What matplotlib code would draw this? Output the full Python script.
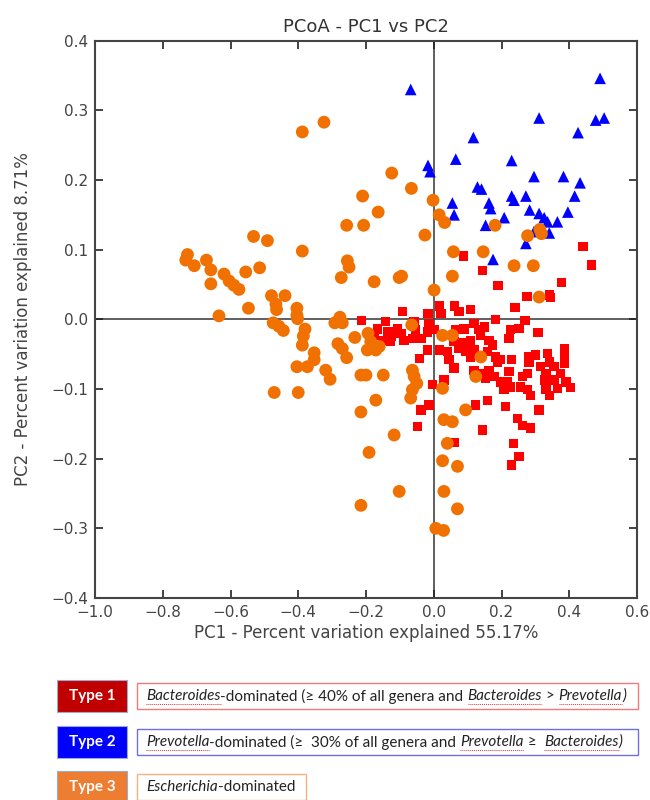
import matplotlib
matplotlib.use("Agg")
import matplotlib.pyplot as plt
from matplotlib.patches import Rectangle
from matplotlib.lines import Line2D

# PC1 / PC2 scores per enterotype
type1_pc1 = [0.441, 0.466, 0.087, 0.144, 0.19, 0.377, 0.275, 0.341, 0.345, 0.24,
             -0.092, -0.017, 0.016, 0.062, 0.075, 0.109, 0.021, 0.183, 0.269,
             -0.213, -0.166, -0.142, -0.135, -0.125, -0.107, -0.097, -0.151, -0.127,
             -0.088, -0.058, -0.053, -0.038, -0.014, 0.001, -0.019, -0.063, -0.176,
             0.065, 0.089, 0.119, 0.134, 0.149, 0.139, 0.227, 0.252, 0.308, 0.222,
             0.06, 0.089, 0.109, 0.163, 0.173,
             -0.019, 0.016, -0.043, 0.04, 0.045, 0.06, 0.075, 0.094, 0.109, 0.119,
             0.158, 0.183, 0.188, 0.198, 0.229, 0.281, 0.301, 0.336, 0.385, 0.385,
             0.341, 0.281,
             0.119, 0.139, 0.153, 0.163, 0.178, 0.198, 0.222, 0.217, 0.207, 0.227,
             0.262, 0.277, 0.257, 0.277, 0.286, 0.316, 0.331, 0.326, 0.331, 0.355,
             0.375, 0.39, 0.404, 0.355, 0.365, 0.341, 0.385, 0.03, -0.004,
             -0.014, -0.038, 0.124, 0.158, 0.212, 0.311, 0.247, 0.262, 0.286,
             -0.048, 0.144, 0.062, 0.235, 0.252, 0.229]
type1_pc2 = [0.105, 0.078, 0.091, 0.07, 0.049, 0.053, 0.033, 0.035, 0.031, 0.017,
             0.011, 0.008, 0.019, 0.019, 0.011, 0.014, 0.008, 0.0, -0.002,
             -0.002, -0.014, -0.003, -0.018, -0.025, -0.013, -0.02, -0.03, -0.032,
             -0.03, -0.003, -0.015, -0.027, -0.006, -0.015, -0.018, -0.027, -0.023,
             -0.015, -0.014, -0.006, -0.015, -0.011, -0.023, -0.015, -0.013, -0.019, -0.027,
             -0.032, -0.034, -0.03, -0.03, -0.037,
             -0.044, -0.044, -0.056, -0.046, -0.058, -0.07, -0.042, -0.046, -0.054, -0.044,
             -0.046, -0.054, -0.061, -0.058, -0.058, -0.054, -0.051, -0.049, -0.042, -0.051,
             -0.061, -0.061,
             -0.073, -0.078, -0.085, -0.073, -0.082, -0.09, -0.075, -0.09, -0.101, -0.097,
             -0.082, -0.078, -0.097, -0.101, -0.109, -0.068, -0.078, -0.087, -0.101, -0.068,
             -0.078, -0.09, -0.098, -0.087, -0.099, -0.109, -0.063, -0.087, -0.094,
             -0.123, -0.13, -0.123, -0.116, -0.125, -0.13, -0.142, -0.152, -0.156,
             -0.154, -0.159, -0.177, -0.178, -0.197, -0.209]

type2_pc1 = [-0.068, -0.017, -0.011, 0.065, 0.117, 0.055, 0.06, 0.129, 0.141, 0.163,
             0.168, 0.153, 0.208, 0.175, 0.23, 0.23, 0.237, 0.272, 0.283, 0.296,
             0.311, 0.311, 0.326, 0.336, 0.341, 0.296, 0.272, 0.365, 0.383, 0.396,
             0.416, 0.432, 0.426, 0.491, 0.478, 0.503]
type2_pc2 = [0.33, 0.221, 0.212, 0.23, 0.261, 0.167, 0.15, 0.19, 0.187, 0.167,
             0.159, 0.135, 0.146, 0.086, 0.228, 0.177, 0.171, 0.177, 0.157, 0.205,
             0.289, 0.152, 0.146, 0.14, 0.124, 0.126, 0.109, 0.14, 0.205, 0.154,
             0.177, 0.196, 0.268, 0.346, 0.286, 0.289]

type3_pc1 = [-0.388, -0.324, -0.21, -0.257, -0.207, -0.532, -0.491, -0.388, -0.727, -0.732,
             -0.707, -0.671, -0.658, -0.658, -0.619, -0.604, -0.59, -0.575, -0.555, -0.514,
             -0.255, -0.25, -0.273, -0.634, -0.547, -0.479, -0.439, -0.466, -0.464, -0.404,
             -0.404, -0.38, -0.474, -0.457, -0.444, -0.292, -0.277, -0.27, -0.385, -0.388,
             -0.353, -0.353, -0.373, -0.404, -0.319, -0.306, -0.471, -0.4, -0.283, -0.27,
             -0.257, -0.233, -0.215, -0.2, -0.215, -0.215, -0.194, -0.186, -0.196, -0.171,
             -0.161, -0.149, -0.171, -0.117, -0.191, -0.102, -0.063, -0.058, -0.05, -0.063,
             -0.068, 0.001, 0.026, 0.03, 0.055, 0.094, 0.04, 0.026, 0.07, 0.03,
             0.07, 0.006, 0.029, 0.311, 0.026, 0.055, 0.139, 0.124, -0.124, -0.066,
             -0.164, -0.026, -0.002, 0.016, 0.032, -0.176, -0.102, -0.095, 0.058, 0.146,
             0.055, 0.237, 0.294, 0.181, 0.277, 0.313, 0.318, -0.065, -0.402]
type3_pc2 = [0.269, 0.283, 0.177, 0.135, 0.135, 0.119, 0.113, 0.098, 0.093, 0.085,
             0.077, 0.085, 0.071, 0.051, 0.065, 0.055, 0.049, 0.043, 0.068, 0.074,
             0.084, 0.075, 0.06, 0.005, 0.016, 0.034, 0.034, 0.022, 0.014, 0.016,
             0.006, -0.014, -0.005, -0.01, -0.016, -0.005, 0.003, -0.005, -0.024, -0.037,
             -0.048, -0.058, -0.068, -0.068, -0.073, -0.086, -0.105, -0.105, -0.035, -0.042,
             -0.055, -0.026, -0.08, -0.08, -0.133, -0.267, -0.02, -0.032, -0.044, -0.044,
             -0.039, -0.08, -0.116, -0.166, -0.191, -0.247, -0.073, -0.082, -0.092, -0.101,
             -0.113, 0.042, -0.099, -0.144, -0.147, -0.13, -0.178, -0.203, -0.211, -0.247,
             -0.272, -0.3, -0.303, 0.032, -0.023, -0.023, -0.054, -0.082, 0.21, 0.188,
             0.154, 0.121, 0.171, 0.15, 0.139, 0.054, 0.06, 0.062, 0.097, 0.097,
             0.062, 0.077, 0.077, 0.135, 0.12, 0.129, 0.123, -0.008, 0.001]

x_ticks = [-1.0, -0.8, -0.6, -0.4, -0.2, 0.0, 0.2, 0.4, 0.6]
y_ticks = [-0.4, -0.3, -0.2, -0.1, 0.0, 0.1, 0.2, 0.3, 0.4]

type_names = ["Type 1", "Type 2", "Type 3"]
type_fill = ["#c00000", "#0000ff", "#ed7d31"]
type_border = ["#f07a7a", "#6f6fe0", "#f4b183"]
# (text, italic, spell-check underline)
type_desc = [
    [("Bacteroides", True, True), ("-dominated (\u2265 40% of all genera and ", False, False),
     ("Bacteroides", True, True), (" > ", False, False), ("Prevotella", True, True),
     (")", True, False)],
    [("Prevotella", True, True), ("-dominated (\u2265  30% of all genera and ", False, False),
     ("Prevotella", True, True), (" \u2265  ", False, False), ("Bacteroides", True, True),
     (")", True, False)],
    [("Escherichia", True, False), ("-dominated", False, False)],
]

W, H = 650, 800
leg_font = ["Lato", "DejaVu Sans"]
leg_size = 11


def fx(px):
    return px / W


def fy(py):
    return 1 - py / H


def text_width(fig, renderer, s, italic):
    # pad with x so leading/trailing spaces are counted
    style = "italic" if italic else "normal"
    t1 = fig.text(0, 0, "x" + s + "x", fontsize=leg_size, family=leg_font, style=style)
    t2 = fig.text(0, 0, "xx", fontsize=leg_size, family=leg_font, style=style)
    w = t1.get_window_extent(renderer).width - t2.get_window_extent(renderer).width
    t1.remove()
    t2.remove()
    return w


def draw_runs(fig, renderer, px, py, runs):
    for s, italic, wavy in runs:
        fig.text(fx(px), fy(py), s, fontsize=leg_size, family=leg_font,
                 style="italic" if italic else "normal", va="center", ha="left",
                 color="#222222")
        w = text_width(fig, renderer, s, italic)
        if wavy:
            fig.add_artist(Line2D([fx(px), fx(px + w)], [fy(py + 8), fy(py + 8)],
                                  color="#e03030", lw=0.7, ls=(0, (1, 1))))
        px += w


fig = plt.figure(figsize=(6.5, 8), dpi=100)
ax = fig.add_axes([fx(95), fy(598), fx(542), 557.3 / H])

ax.axhline(0, color="#444444", lw=1.2, zorder=1)
ax.axvline(0, color="#444444", lw=1.2, zorder=1)
ax.scatter(type1_pc1, type1_pc2, marker="s", s=45, color="#ff0000", edgecolors="none", zorder=2)
ax.scatter(type2_pc1, type2_pc2, marker="^", s=70, color="#0000ff", edgecolors="none", zorder=3)
ax.scatter(type3_pc1, type3_pc2, marker="o", s=85, color="#f07000", edgecolors="none", zorder=4)

ax.set_xlim(-1.0, 0.6)
ax.set_ylim(-0.4, 0.4)
ax.set_xticks(x_ticks)
ax.set_yticks(y_ticks)
ax.set_xticklabels(["\u2212%.1f" % -v if v < 0 else "%.1f" % v for v in x_ticks])
ax.set_yticklabels(["\u2212%.1f" % -v if v < 0 else "%.1f" % v for v in y_ticks])
ax.tick_params(direction="in", length=6, width=1.2, top=True, right=True,
               labelsize=11, colors="#222222", labelcolor="#444444", pad=5)
for sp in ax.spines.values():
    sp.set_color("#444444")
    sp.set_linewidth(1.5)

ax.set_title("PCoA - PC1 vs PC2", fontsize=13, color="#333333", pad=6)
ax.set_xlabel("PC1 - Percent variation explained 55.17%", fontsize=12, color="#444444", labelpad=3)
ax.set_ylabel("PC2 - Percent variation explained 8.71%", fontsize=12, color="#444444", labelpad=14)

# enterotype key under the plot
renderer = fig.canvas.get_renderer()
row_y = [696, 742, 787]
desc_right = [638, 638, 306]
for i in range(3):
    cy = row_y[i]
    fig.add_artist(Rectangle((fx(57), fy(cy + 16)), fx(70), 32 / H,
                             transform=fig.transFigure, facecolor=type_fill[i],
                             edgecolor="#9aaad0", lw=0.8))
    fig.text(fx(92), fy(cy), type_names[i], fontsize=11, family=leg_font,
             weight="bold", color="white", ha="center", va="center")
    fig.add_artist(Rectangle((fx(137), fy(cy + 13)), fx(desc_right[i] - 137), 26 / H,
                             transform=fig.transFigure, facecolor="white",
                             edgecolor=type_border[i], lw=1.0))
    draw_runs(fig, renderer, 146, cy, type_desc[i])

fig.savefig("out.png", dpi=100)
